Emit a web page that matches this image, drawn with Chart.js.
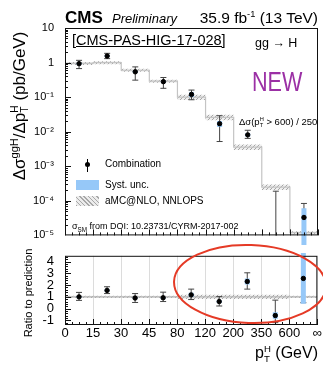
<!DOCTYPE html>
<html lang="en">
  <head>
    <meta charset="UTF-8" />
    <title>ggH pT differential cross section</title>
    <script src="https://cdn.jsdelivr.net/npm/chart.js@4.4.1/dist/chart.umd.min.js"></script>
    <style>
      body {
        margin: 0;
        background: #ffffff;
        font-family: "Liberation Sans", Arial, sans-serif;
      }
      #wrap {
        position: relative;
        width: 323px;
        height: 366px;
        overflow: hidden;
      }
      .pane {
        position: absolute;
        left: 0;
        width: 323px;
      }
      .t {
        position: absolute;
        white-space: nowrap;
        line-height: 1;
        color: #000;
      }
      .stack {
        display: inline-block;
        vertical-align: middle;
        font-size: 0.6em;
        line-height: 1;
      }
      .stack span {
        display: block;
      }
      .rot {
        transform: translate(-50%, -50%) rotate(-90deg);
      }
    </style>
  </head>
  <body>
    <div id="wrap">
      <div class="pane" style="top: 0; height: 245px"><canvas id="mainChart"></canvas></div>
      <div class="pane" style="top: 245px; height: 121px"><canvas id="ratioChart"></canvas></div>

      <!-- header -->
      <div class="t" style="left: 65px; top: 9px; font-size: 17px; font-weight: bold">CMS</div>
      <div class="t" style="left: 112px; top: 12px; font-size: 13px; font-style: italic">Preliminary</div>
      <div class="t" style="right: 5px; top: 10px; font-size: 15.5px">35.9 fb<sup style="font-size: 0.6em">-1</sup> (13 TeV)</div>
      <div class="t" style="left: 72px; top: 33px; font-size: 14.5px; text-decoration: underline">[CMS-PAS-HIG-17-028]</div>
      <div class="t" style="left: 255px; top: 37px; font-size: 12.5px">gg → H</div>
      <div class="t" style="left: 252px; top: 69px; font-size: 27px; color: #9b30a5; transform: scaleX(0.8); transform-origin: left">NEW</div>
      <div class="t" style="left: 239px; top: 117px; font-size: 9.5px">Δσ(p<span class="stack"><span>H</span><span>T</span></span> &gt; 600) / 250</div>

      <!-- legend -->
      <div style="position: absolute; left: 87px; top: 159px; width: 1px; height: 13px; background: #000"></div>
      <div style="position: absolute; left: 85px; top: 162px; width: 5px; height: 5px; border-radius: 50%; background: #000"></div>
      <div class="t" style="left: 105px; top: 159px; font-size: 10px">Combination</div>
      <div style="position: absolute; left: 76px; top: 180px; width: 23px; height: 10px; background: #96c8f8"></div>
      <div class="t" style="left: 105px; top: 180px; font-size: 10px">Syst. unc.</div>
      <div style="position: absolute; left: 76px; top: 196px; width: 23px; height: 10px; background: repeating-linear-gradient(45deg, #a8a8a8 0 1px, #ececec 1px 3px)"></div>
      <div class="t" style="left: 105px; top: 196px; font-size: 10px">aMC@NLO, NNLOPS</div>
      <div class="t" style="left: 72px; top: 222px; font-size: 9px">σ<sub style="font-size: 0.7em">SM</sub> from DOI: 10.23731/CYRM-2017-002</div>

      <!-- axis titles -->
      <div class="t rot" style="left: 19.5px; top: 106px; font-size: 17px">Δσ<sup style="font-size: 0.65em">ggH</sup>/Δp<span class="stack"><span>H</span><span>T</span></span> (pb/GeV)</div>
      <div class="t rot" style="left: 28px; top: 293px; font-size: 11px">Ratio to prediction</div>
      <div class="t" style="right: 5px; top: 344px; font-size: 16px">p<span class="stack"><span>H</span><span>T</span></span> (GeV)</div>

      <svg style="position: absolute; left: 0; top: 0" width="323" height="366">
        <ellipse cx="250" cy="284" rx="76" ry="39" fill="none" stroke="#e53a26" stroke-width="2" transform="rotate(2 250 284)" />
      </svg>
    </div>

    <script>
      // bin edges (GeV) shown as tick labels, bins evenly spaced
      const edgeLabels = ["0", "15", "30", "45", "80", "120", "200", "350", "600", "∞"];

      // aMC@NLO, NNLOPS prediction (pb/GeV) and its relative uncertainty
      const theory = [0.95, 1.0, 0.6, 0.29, 0.1, 0.026, 0.0036, 2.5e-4, 1.2e-5];
      const theoryUnc = [0.1, 0.1, 0.1, 0.1, 0.18, 0.18, 0.18, 0.18, 0.1];

      // combination (pb/GeV), total uncertainty bounds, relative syst.
      const xsec = [0.93, 1.55, 0.54, 0.28, 0.12, 0.017, 0.0081, -1.5e-4, 3.3e-5];
      const xsecHi = [1.16, 1.85, 0.75, 0.37, 0.16, 0.029, 0.011, 1.9e-4, 8.4e-5];
      const xsecLo = [0.67, 1.3, 0.31, 0.18, 0.084, 0.0052, 0.0064, -4e-4, 5e-6];
      const systRel = [0.07, 0.06, 0.08, 0.08, 0.16, 0.2, 0.11, 0.46, 0.84];

      // ratio to prediction
      const ratio = [1.0, 1.55, 0.9, 0.92, 1.17, 0.6, 2.31, -0.59, 2.57];
      const ratioHi = [1.38, 1.86, 1.28, 1.4, 1.66, 1.02, 3.05, 0.72, 7.0];
      const ratioLo = [0.7, 1.28, 0.52, 0.6, 0.77, 0.22, 1.66, -1.2, 0.5];

      // tick labels
      const logTickValues = [1e-5, 1e-4, 1e-3, 1e-2, 1e-1, 1, 10];
      const logTickLabels = ["10⁻⁵", "10⁻⁴", "10⁻³", "10⁻²", "10⁻¹", "1", "10"];
      const ratioTicks = [-1, 0, 1, 2, 3, 4];

      Chart.defaults.font.family = "'Liberation Sans', Arial, sans-serif";
      Chart.defaults.color = "#000";

      const blue = "#96c8f8";

      function hatch() {
        const c = document.createElement("canvas");
        c.width = 4;
        c.height = 4;
        const g = c.getContext("2d");
        g.fillStyle = "#efefef";
        g.fillRect(0, 0, 4, 4);
        g.strokeStyle = "#a6a6a6";
        g.lineWidth = 1;
        g.beginPath();
        g.moveTo(0, 4);
        g.lineTo(4, 0);
        g.stroke();
        return g.createPattern(c, "repeat");
      }

      // stepped histogram points over the bin edges
      function stepPts(vals) {
        const pts = vals.map((v, i) => ({ x: i, y: v }));
        pts.push({ x: vals.length, y: vals[vals.length - 1] });
        return pts;
      }
      // vertical segments at bin centres, split by gaps
      function barPts(lo, hi) {
        const pts = [];
        lo.forEach((l, i) => {
          pts.push({ x: i + 0.5, y: l }, { x: i + 0.5, y: hi[i] }, { x: i + 0.5, y: null });
        });
        return pts;
      }
      const pointPts = (vals) => vals.map((v, i) => ({ x: i + 0.5, y: v }));

      function makeFrame(yMinor) {
        return {
          id: "frame",
          afterDatasetsDraw(chart) {
            const { ctx, chartArea: a, scales } = chart;
            ctx.save();
            ctx.strokeStyle = "#111";
            ctx.lineWidth = 1;
            ctx.beginPath();
            const n = (edgeLabels.length - 1) * 4;
            for (let i = 0; i <= n; i++) {
              const px = Math.round(scales.x.getPixelForValue(i / 4)) + 0.5;
              ctx.moveTo(px, a.bottom);
              ctx.lineTo(px, a.bottom - (i % 4 ? 3 : 6));
            }
            yMinor().forEach(([v, major]) => {
              const py = Math.round(scales.y.getPixelForValue(v)) + 0.5;
              if (py < a.top || py > a.bottom) return;
              ctx.moveTo(a.left, py);
              ctx.lineTo(a.left + (major ? 6 : 3), py);
            });
            ctx.stroke();
            ctx.strokeRect(a.left + 0.5, a.top + 0.5, a.width - 1, a.height - 1);
            ctx.restore();
          },
        };
      }

      const hatchFill = hatch();

      // ---------- main panel ----------
      const posOrNull = (v) => (v > 0 ? v : null);
      const mainDatasets = [
        {
          data: pointPts(xsec.map(posOrNull)),
          showLine: false,
          pointRadius: 2.2,
          pointBackgroundColor: "#000",
          pointBorderColor: "#000",
          order: 0,
        },
        {
          data: barPts(
            xsec.map((v, i) => (v > 0 ? v * (1 - systRel[i]) : null)),
            xsec.map((v, i) => (v > 0 ? v * (1 + systRel[i]) : null))
          ),
          borderColor: blue,
          borderWidth: 5,
          pointRadius: 0,
          clip: false,
          order: 1,
        },
        {
          data: barPts(xsecLo.map((v) => Math.max(v, 1e-9)), xsecHi),
          borderColor: "#444",
          borderWidth: 1,
          pointStyle: "line",
          pointRadius: 3,
          pointBorderColor: "#444",
          pointBorderWidth: 1,
          clip: 0,
          order: 2,
        },
        {
          data: stepPts(theory.map((t, i) => t * (1 + theoryUnc[i]))),
          stepped: true,
          borderWidth: 0,
          pointRadius: 0,
          fill: false,
          order: 4,
        },
        {
          data: stepPts(theory.map((t, i) => t * (1 - theoryUnc[i]))),
          stepped: true,
          borderWidth: 0,
          pointRadius: 0,
          fill: "-1",
          backgroundColor: hatchFill,
          order: 4,
        },
        {
          data: stepPts(theory),
          stepped: true,
          borderColor: "#c4c4c4",
          borderWidth: 1.2,
          pointRadius: 0,
          order: 3,
        },
      ];

      new Chart(document.getElementById("mainChart"), {
        type: "line",
        data: { datasets: mainDatasets },
        options: {
          responsive: true,
          maintainAspectRatio: false,
          animation: false,
          layout: { padding: { top: 28, right: 4, bottom: 5, left: 0 } },
          plugins: { legend: { display: false }, tooltip: { enabled: false } },
          scales: {
            x: { type: "linear", min: 0, max: edgeLabels.length - 1, display: false },
            y: {
              type: "logarithmic",
              min: 1e-5,
              max: 10,
              border: { display: false },
              grid: { display: false },
              afterBuildTicks: (s) => {
                s.ticks = logTickValues.map((v) => ({ value: v }));
              },
              afterFit: (s) => {
                s.width = 65;
              },
              ticks: {
                font: { size: 11 },
                padding: 3,
                autoSkip: false,
                callback: (v) => {
                  const i = logTickValues.findIndex((t) => Math.abs(t - v) / t < 1e-6);
                  return i >= 0 ? logTickLabels[i] : "";
                },
              },
            },
          },
        },
        plugins: [
          makeFrame(() => {
            const out = [];
            logTickValues.forEach((d, j) => {
              out.push([d, true]);
              if (j < logTickValues.length - 1) for (let k = 2; k < 10; k++) out.push([d * k, false]);
            });
            return out;
          }),
        ],
      });

      // ---------- ratio panel ----------
      const ratioDatasets = [
        {
          data: pointPts(ratio),
          showLine: false,
          pointRadius: 2.2,
          pointBackgroundColor: "#000",
          pointBorderColor: "#000",
          order: 0,
        },
        {
          data: barPts(
            ratio.map((r, i) => r - Math.abs(r) * systRel[i]),
            ratio.map((r, i) => r + Math.abs(r) * systRel[i])
          ),
          borderColor: blue,
          borderWidth: 5,
          pointRadius: 0,
          clip: false,
          order: 1,
        },
        {
          data: barPts(ratioLo, ratioHi),
          borderColor: "#444",
          borderWidth: 1,
          pointStyle: "line",
          pointRadius: 3,
          pointBorderColor: "#444",
          pointBorderWidth: 1,
          clip: 0,
          order: 2,
        },
        {
          data: stepPts(theoryUnc.map((u) => 1 + u)),
          stepped: true,
          borderWidth: 0,
          pointRadius: 0,
          fill: false,
          order: 4,
        },
        {
          data: stepPts(theoryUnc.map((u) => 1 - u)),
          stepped: true,
          borderWidth: 0,
          pointRadius: 0,
          fill: "-1",
          backgroundColor: hatchFill,
          order: 4,
        },
        {
          data: stepPts(theory.map(() => 1)),
          stepped: true,
          borderColor: "#b4b4b4",
          borderWidth: 1.2,
          pointRadius: 0,
          order: 3,
        },
      ];

      new Chart(document.getElementById("ratioChart"), {
        type: "line",
        data: { datasets: ratioDatasets },
        options: {
          responsive: true,
          maintainAspectRatio: false,
          animation: false,
          layout: { padding: { top: 2, right: 4, bottom: 0, left: 0 } },
          plugins: { legend: { display: false }, tooltip: { enabled: false } },
          scales: {
            x: {
              type: "linear",
              min: 0,
              max: edgeLabels.length - 1,
              border: { display: false },
              grid: { color: "#dcdcdc", drawTicks: false },
              afterBuildTicks: (s) => {
                s.ticks = edgeLabels.map((_, i) => ({ value: i }));
              },
              afterFit: (s) => {
                s.height = 41;
              },
              ticks: {
                font: { size: 13 },
                padding: 1,
                maxRotation: 0,
                autoSkip: false,
                callback: (v) => edgeLabels[Math.round(v)],
              },
            },
            y: {
              type: "linear",
              min: -1.4,
              max: 4.5,
              border: { display: false },
              grid: { display: false },
              afterBuildTicks: (s) => {
                s.ticks = ratioTicks.map((v) => ({ value: v }));
              },
              afterFit: (s) => {
                s.width = 65;
              },
              ticks: { font: { size: 13 }, padding: 3, autoSkip: false },
            },
          },
        },
        plugins: [
          makeFrame(() => {
            const out = [];
            for (let k = -7; k <= 22; k++) out.push([k / 5, k % 5 === 0]);
            return out;
          }),
        ],
      });
    </script>
  </body>
</html>
